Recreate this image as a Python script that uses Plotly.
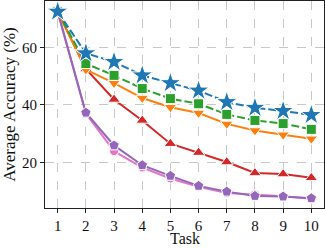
import plotly.graph_objects as go

tasks = [1, 2, 3, 4, 5, 6, 7, 8, 9, 10]
pink_circle = [72.5, 37.0, 23.9, 18.2, 14.4, 11.5, 9.3, 8.8, 8.2, 7.3]
purple_pent = [72.5, 37.3, 25.9, 19.0, 15.3, 11.8, 9.8, 8.3, 8.1, 7.5]
red_tri = [72.5, 52.5, 41.9, 34.6, 26.5, 23.4, 20.1, 16.3, 15.9, 14.6]
orange_tri = [72.5, 52.3, 47.6, 42.4, 39.2, 37.2, 33.4, 31.1, 29.6, 28.2]
green_sq = [72.5, 54.4, 50.3, 45.7, 42.2, 40.4, 36.7, 34.6, 33.5, 31.5]
blue_star = [72.5, 58.0, 55.0, 50.3, 47.6, 45.0, 41.0, 39.0, 37.9, 36.5]

series = [
    (pink_circle, "#e377c2", "circle", 9, "solid"),
    (purple_pent, "#9467bd", "pentagon", 11, "solid"),
    (red_tri, "#d62728", "triangle-up", 11, "solid"),
    (orange_tri, "#ff7f0e", "triangle-down", 11, "solid"),
    (green_sq, "#2ca02c", "square", 10, "8px,3px"),
    (blue_star, "#1f77b4", "star", 16, "8px,3px"),
]

fig = go.Figure()
for vals, col, sym, sz, dash in series:
    fig.add_trace(go.Scatter(
        x=tasks, y=vals, mode="lines+markers",
        line=dict(color=col, width=2, dash=dash),
        marker=dict(symbol=sym, size=sz, color=col, line=dict(color="white", width=1)),
        showlegend=False,
    ))

axis_common = dict(
    showline=True, linecolor="#222", linewidth=1.2, mirror=True,
    ticks="outside", ticklen=4, tickwidth=1, tickcolor="#222",
    showgrid=True, gridcolor="#c8c8c8", griddash="dash", gridwidth=1,
    zeroline=False, automargin=False,
    tickfont=dict(family="Liberation Serif", size=15, color="#111"),
)

fig.update_xaxes(range=[0.55, 10.45], tickvals=tasks, **axis_common)
fig.update_yaxes(range=[4.1, 76.2], tickvals=[20, 40, 60],
                 title=dict(text="Average Accuracy (%)", font=dict(family="Liberation Serif", size=17, color="#111"), standoff=4),
                 **axis_common)

fig.add_annotation(text="Task", xref="paper", yref="paper", x=0.5, y=-0.192,
                   xanchor="center", yanchor="bottom", showarrow=False, borderpad=0,
                   font=dict(family="Liberation Serif", size=16, color="#111"))

fig.update_layout(
    width=325, height=248,
    margin=dict(l=45, r=1, t=1, b=40),
    plot_bgcolor="white", paper_bgcolor="white",
)

fig.write_html("out.html", config={"displayModeBar": False},
               post_script="document.body.style.margin='0';document.body.style.overflow='hidden';")
